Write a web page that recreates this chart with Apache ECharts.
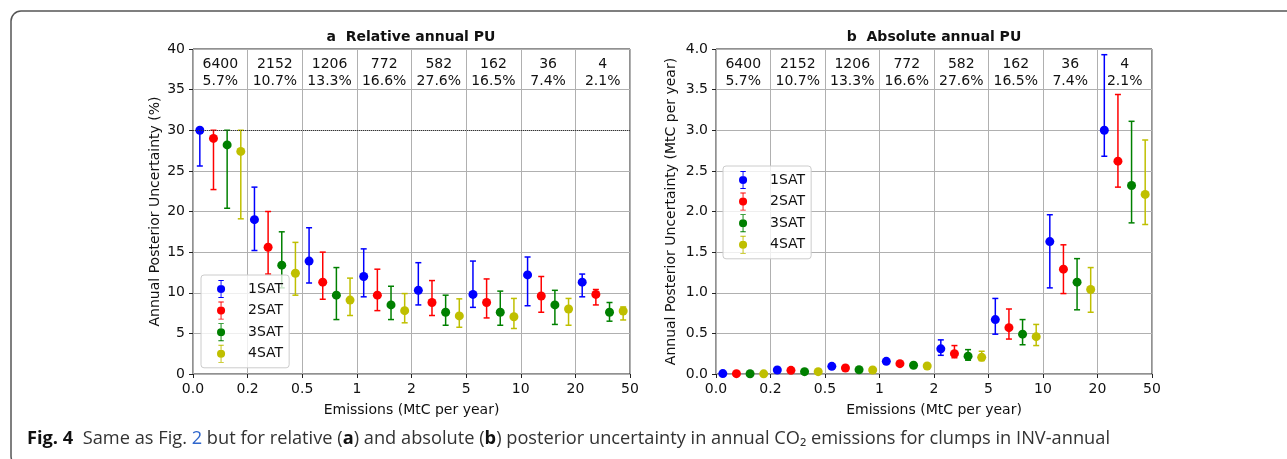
<!DOCTYPE html>
<html>
<head>
<meta charset="utf-8">
<script src="https://cdn.jsdelivr.net/npm/echarts@6/dist/echarts.min.js"></script>
<style>
  html, body { margin: 0; padding: 0; background: #fff; }
  #chart { width: 1287px; height: 459px; }
</style>
</head>
<body>
<div id="chart"></div>
<script>
// emission bins (tick labels at bin edges) and clump counts / shares per bin
const xTicks = ["0.0", "0.2", "0.5", "1", "2", "5", "10", "20", "50"];
const binCounts = ["6400", "2152", "1206", "772", "582", "162", "36", "4"];
const binShares = ["5.7%", "10.7%", "13.3%", "16.6%", "27.6%", "16.5%", "7.4%", "2.1%"];
const satNames = ["1SAT", "2SAT", "3SAT", "4SAT"];
const satColors = ["#0000ff", "#ff0000", "#008000", "#bfbf00"];

// a: relative annual PU (%)
const rel1 = [30.0, 19.0, 13.9, 12.0, 10.3, 9.8, 12.2, 11.3];
const rel1Lo = [25.6, 15.2, 11.2, 9.5, 8.5, 8.2, 8.4, 9.5];
const rel1Hi = [30.0, 23.0, 18.0, 15.4, 13.7, 13.9, 14.4, 12.3];
const rel2 = [29.0, 15.6, 11.3, 9.7, 8.8, 8.8, 9.6, 9.8];
const rel2Lo = [22.7, 12.3, 9.2, 7.8, 7.2, 6.9, 7.6, 8.5];
const rel2Hi = [30.0, 20.0, 15.0, 12.9, 11.5, 11.7, 12.0, 10.4];
const rel3 = [28.2, 13.4, 9.7, 8.5, 7.6, 7.6, 8.5, 7.6];
const rel3Lo = [20.4, 10.6, 6.7, 6.7, 6.0, 6.0, 6.1, 6.5];
const rel3Hi = [30.0, 17.5, 13.1, 10.8, 9.7, 10.2, 10.3, 8.8];
const rel4 = [27.4, 12.4, 9.1, 7.8, 7.15, 7.05, 8.0, 7.75];
const rel4Lo = [19.1, 9.7, 7.2, 6.3, 5.75, 5.6, 6.0, 6.65];
const rel4Hi = [30.0, 16.2, 11.8, 9.9, 9.25, 9.3, 9.3, 8.25];

// b: absolute annual PU (MtC per year)
const abs1 = [0.005, 0.049, 0.094, 0.156, 0.31, 0.67, 1.63, 3.00];
const abs1Lo = [0.004, 0.044, 0.084, 0.142, 0.23, 0.49, 1.06, 2.68];
const abs1Hi = [0.006, 0.056, 0.108, 0.172, 0.42, 0.93, 1.96, 3.93];
const abs2 = [0.004, 0.045, 0.074, 0.127, 0.25, 0.57, 1.29, 2.62];
const abs2Lo = [0.003, 0.040, 0.066, 0.115, 0.20, 0.43, 0.99, 2.30];
const abs2Hi = [0.005, 0.050, 0.084, 0.142, 0.35, 0.80, 1.59, 3.44];
const abs3 = [0.003, 0.029, 0.053, 0.107, 0.22, 0.49, 1.13, 2.32];
const abs3Lo = [0.002, 0.025, 0.046, 0.097, 0.17, 0.36, 0.79, 1.86];
const abs3Hi = [0.004, 0.034, 0.060, 0.118, 0.30, 0.67, 1.42, 3.11];
const abs4 = [0.002, 0.029, 0.049, 0.099, 0.205, 0.46, 1.04, 2.21];
const abs4Lo = [0.001, 0.025, 0.043, 0.090, 0.165, 0.35, 0.76, 1.84];
const abs4Hi = [0.003, 0.033, 0.056, 0.110, 0.28, 0.61, 1.31, 2.88];

const relSets = [[rel1, rel1Lo, rel1Hi], [rel2, rel2Lo, rel2Hi], [rel3, rel3Lo, rel3Hi], [rel4, rel4Lo, rel4Hi]];
const absSets = [[abs1, abs1Lo, abs1Hi], [abs2, abs2Lo, abs2Hi], [abs3, abs3Lo, abs3Hi], [abs4, abs4Lo, abs4Hi]];

// legend icon: errorbar with caps and a dot
const errIcon = "path://M2,0H8V1H2Z M4.5,0H5.5V20H4.5Z M2,19H8V20H2Z M0.5,10A4.5,4.5,0,1,1,9.5,10A4.5,4.5,0,1,1,0.5,10Z";

const FONT = "DejaVu Sans";
const CAP_FONT = "Open Sans";
const CAP_SIZE = 18;

function errRender(params, api) {
  const x = api.value(0);
  const p = api.coord([x, api.value(1)]);
  const lo = api.coord([x, api.value(2)]);
  const hi = api.coord([x, api.value(3)]);
  const color = api.visual("color");
  const ls = { stroke: color, lineWidth: 1.5 };
  return {
    type: "group",
    children: [
      { type: "line", shape: { x1: p[0], y1: lo[1], x2: p[0], y2: hi[1] }, style: ls },
      { type: "line", shape: { x1: p[0] - 3, y1: lo[1], x2: p[0] + 3, y2: lo[1] }, style: ls },
      { type: "line", shape: { x1: p[0] - 3, y1: hi[1], x2: p[0] + 3, y2: hi[1] }, style: ls },
      { type: "circle", shape: { cx: p[0], cy: p[1], r: 4.5 }, style: { fill: color } }
    ]
  };
}

function binRender(params, api) {
  const c = api.coord([api.value(0), api.value(1)]);
  const i = params.dataIndex;
  return {
    type: "text",
    x: c[0],
    y: c[1] + 24,
    style: {
      text: binCounts[i] + "\n" + binShares[i],
      fill: "#111",
      fontSize: 14,
      fontFamily: FONT,
      lineHeight: 16.5,
      align: "center",
      verticalAlign: "middle"
    }
  };
}

function makeSeries(sets, axisIdx, yTop) {
  const out = sets.map((s, k) => ({
    name: satNames[k],
    type: "custom",
    xAxisIndex: axisIdx,
    yAxisIndex: axisIdx,
    color: satColors[k],
    itemStyle: { color: satColors[k] },
    renderItem: errRender,
    encode: { x: 0, y: [1, 2, 3] },
    data: s[0].map((v, i) => [i + (k + 0.5) / 4, v, s[1][i], s[2][i]]),
    z: 3
  }));
  out.push({
    type: "custom",
    xAxisIndex: axisIdx,
    yAxisIndex: axisIdx,
    silent: true,
    renderItem: binRender,
    data: binCounts.map((c, i) => [i + 0.5, yTop]),
    z: 4
  });
  return out;
}

const xAxisBase = {
  type: "value",
  min: 0,
  max: 8,
  interval: 1,
  name: "Emissions (MtC per year)",
  nameLocation: "middle",
  nameGap: 29,
  nameTextStyle: { fontFamily: FONT, fontSize: 14, color: "#111" },
  axisLine: { show: false },
  axisTick: { show: true, length: 4, lineStyle: { color: "#222" } },
  axisLabel: {
    margin: 8,
    fontFamily: FONT,
    fontSize: 14,
    color: "#111",
    formatter: v => xTicks[Math.round(v)]
  },
  splitLine: { show: true, lineStyle: { color: "#b0b0b0", width: 1 } }
};

const yAxisBase = {
  type: "value",
  nameLocation: "middle",
  nameTextStyle: { fontFamily: FONT, fontSize: 14, color: "#111" },
  axisLine: { show: false },
  axisTick: { show: true, length: 4, lineStyle: { color: "#222" } },
  axisLabel: { margin: 8, fontFamily: FONT, fontSize: 14, color: "#111" },
  splitLine: { show: true, lineStyle: { color: "#b0b0b0", width: 1 } }
};

const legendBase = {
  orient: "vertical",
  data: satNames.map(n => ({ name: n, icon: errIcon })),
  itemWidth: 34,
  itemHeight: 18,
  itemGap: 3.6,
  padding: [5, 6, 5, 16],
  backgroundColor: "rgba(255,255,255,0.8)",
  borderColor: "#cccccc",
  borderWidth: 1,
  borderRadius: 3,
  selectedMode: false,
  textStyle: { fontFamily: FONT, fontSize: 14, color: "#111", padding: [0, 0, 0, 5] }
};

const relSeries = makeSeries(relSets, 0, 40);
relSeries[0].markLine = {
  silent: true,
  symbol: "none",
  label: { show: false },
  lineStyle: { color: "#333", type: "dotted", width: 1 },
  data: [{ yAxis: 30 }]
};

// caption pieces: [text, bold, colour]
const captionParts = [
  ["Fig. 4", true, "#111"],
  ["  Same as Fig. ", false, "#333"],
  ["2", false, "#2f66cc"],
  [" but for relative (", false, "#333"],
  ["a", true, "#111"],
  [") and absolute (", false, "#333"],
  ["b", true, "#111"],
  [") posterior uncertainty in annual CO₂ emissions for clumps in INV-annual", false, "#333"]
];
const captionLeft = 27;
const captionRight = 1110;

const ctx = document.createElement("canvas").getContext("2d");
let capWidth = 0;
captionParts.forEach(p => {
  ctx.font = (p[1] ? "bold " : "") + CAP_SIZE + "px '" + CAP_FONT + "'";
  capWidth += ctx.measureText(p[0]).width;
});
const capScale = (captionRight - captionLeft) / capWidth;

const capRich = {};
const capText = captionParts.map((p, i) => {
  capRich["p" + i] = { fontFamily: CAP_FONT, fontSize: CAP_SIZE, fontWeight: p[1] ? "bold" : "normal", fill: p[2] };
  return "{p" + i + "|" + p[0] + "}";
}).join("");

const chart = echarts.init(document.getElementById("chart"));
chart.setOption({
  animation: false,
  backgroundColor: "#fff",
  grid: [
    { left: 193, top: 49, width: 437, height: 325, show: true, borderColor: "#222", borderWidth: 1, backgroundColor: "transparent", outerBoundsMode: "none" },
    { left: 716, top: 49, width: 436, height: 325, show: true, borderColor: "#222", borderWidth: 1, backgroundColor: "transparent", outerBoundsMode: "none" }
  ],
  xAxis: [
    Object.assign({}, xAxisBase, { gridIndex: 0 }),
    Object.assign({}, xAxisBase, { gridIndex: 1 })
  ],
  yAxis: [
    Object.assign({}, yAxisBase, {
      gridIndex: 0, min: 0, max: 40, interval: 5,
      name: "Annual Posterior Uncertainty (%)", nameGap: 31
    }),
    Object.assign({}, yAxisBase, {
      gridIndex: 1, min: 0, max: 4, interval: 0.5,
      name: "Annual Posterior Uncertainty (MtC per year)", nameGap: 38,
      axisLabel: Object.assign({}, yAxisBase.axisLabel, { formatter: v => v.toFixed(1) })
    })
  ],
  legend: [
    Object.assign({}, legendBase, { left: 201, top: 275 }),
    Object.assign({}, legendBase, { left: 723, top: 166 })
  ],
  graphic: [
    {
      type: "rect",
      shape: { x: 11, y: 11, width: 1400, height: 455, r: 10 },
      style: { fill: "none", stroke: "#555", lineWidth: 1.5 },
      silent: true
    },
    {
      type: "text",
      x: 411, y: 37,
      style: { text: "a  Relative annual PU", fontFamily: FONT, fontSize: 14, fontWeight: "bold", fill: "#111", align: "center", verticalAlign: "middle" }
    },
    {
      type: "text",
      x: 934, y: 37,
      style: { text: "b  Absolute annual PU", fontFamily: FONT, fontSize: 14, fontWeight: "bold", fill: "#111", align: "center", verticalAlign: "middle" }
    },
    {
      type: "text",
      x: captionLeft, y: 439,
      scaleX: capScale,
      style: {
        text: capText,
        fontFamily: CAP_FONT,
        fontSize: CAP_SIZE,
        fill: "#333",
        verticalAlign: "middle",
        rich: capRich
      }
    }
  ],
  series: relSeries.concat(makeSeries(absSets, 1, 4))
});
</script>
</body>
</html>
